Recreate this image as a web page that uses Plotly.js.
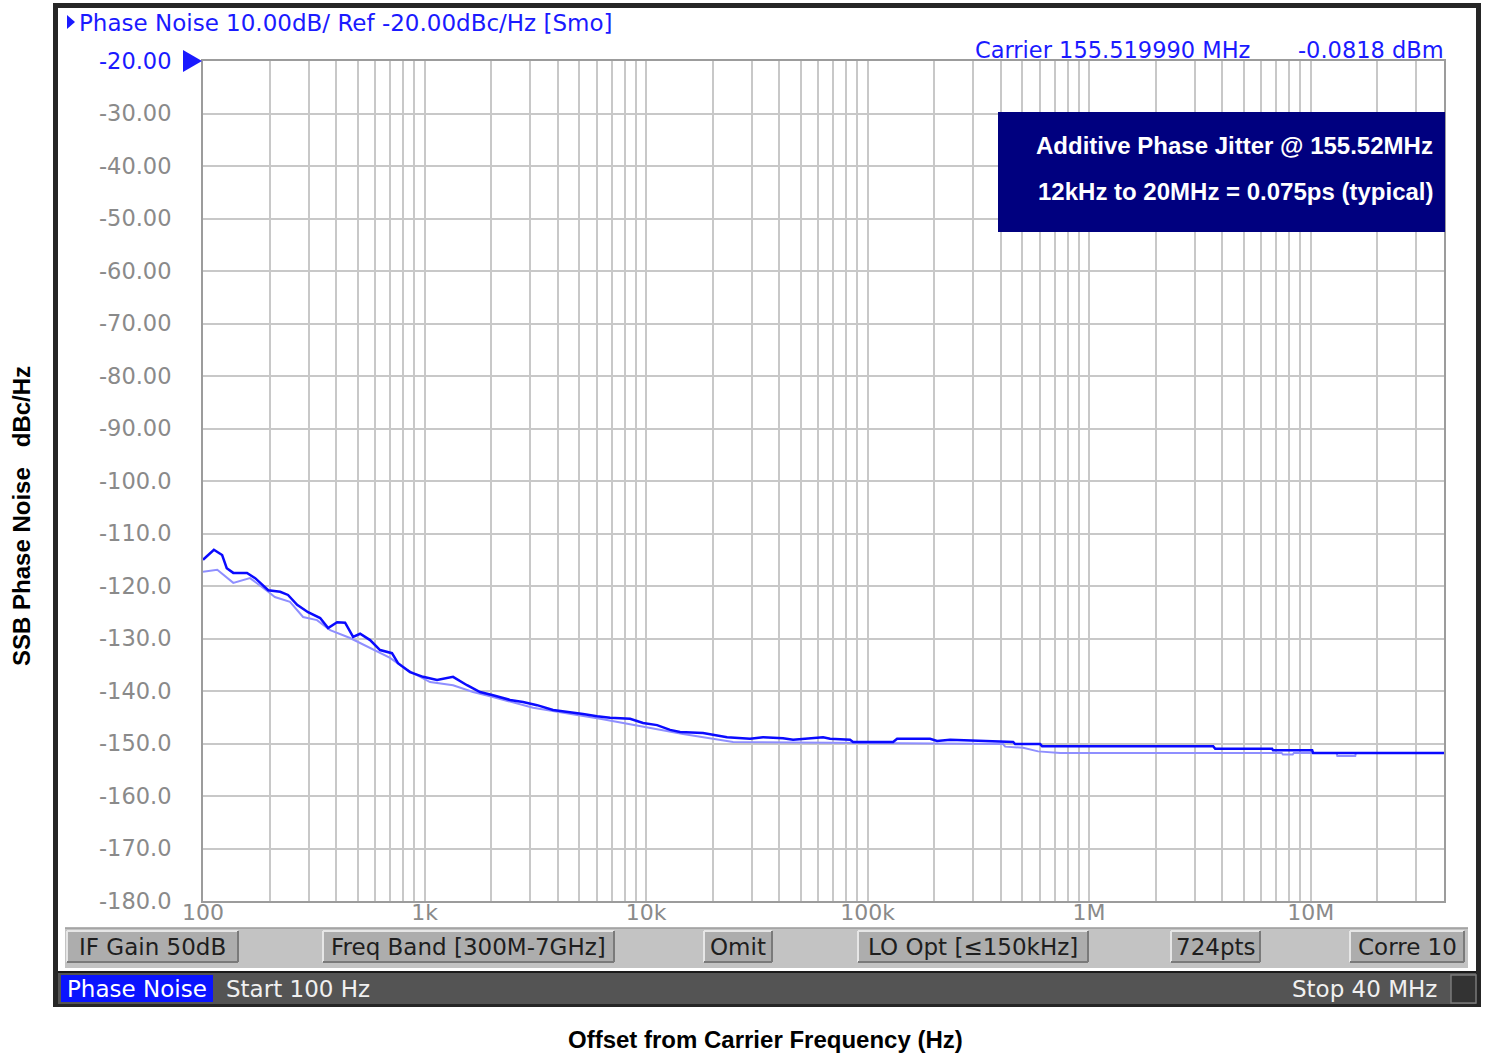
<!DOCTYPE html>
<html>
<head>
<meta charset="utf-8">
<script src="https://cdn.plot.ly/plotly-3.0.1.min.js"></script>
<style>
  html, body { margin: 0; padding: 0; background: #ffffff; }
  #chart { width: 1488px; height: 1053px; }
</style>
</head>
<body>
<div id="chart"></div>
<script>
// ---------------- data ----------------
const darkFreq = [100,112,122,128,137,158,172,197,223,242,266,298,338,367,403,438,476,512,568,630,
  713,759,860,985,1139,1345,1556,1781,2039,2432,2784,3221,3803,4540,5195,6009,6880,8470,9694,11213,
  12837,14240,18080,23210,29480,33750,41550,46110,62970,67720,83370,86030,130400,135900,191500,205900,
  235800,454000,463600,600900,613500,3630000,3710000,6700000,6770000,10160000,10260000,40000000];
const darkDb = [-115.0,-113.1,-114.1,-116.6,-117.5,-117.5,-118.5,-120.8,-121.1,-121.7,-123.6,-125.0,-126.1,-128.0,-126.9,-127.0,-129.7,-129.1,-130.3,-132.2,
  -132.8,-134.7,-136.4,-137.3,-137.9,-137.3,-138.9,-140.2,-140.8,-141.7,-142.1,-142.7,-143.6,-144.0,-144.4,-144.8,-145.1,-145.3,-146.1,-146.5,
  -147.4,-147.8,-148.0,-148.8,-149.1,-148.8,-149.0,-149.3,-148.8,-149.1,-149.3,-149.7,-149.7,-149.1,-149.1,-149.5,
  -149.3,-149.7,-150.1,-150.1,-150.5,-150.5,-151.0,-151.0,-151.3,-151.3,-151.8,-151.8];

const lightFreq = [100,116,137,163,197,211,247,283,327,375,461,568,699,834,1059,1345,1656,1976,3089,6198,
  9694,14690,24710,140200,409000,417800,503500,588700,740000,7400000,7500000,8300000,8400000,13100000,13200000,15900000,16000000,40000000];
const lightDb = [-117.3,-116.9,-119.4,-118.5,-121.1,-122.1,-123.0,-125.9,-126.5,-128.4,-129.9,-131.8,-133.7,-136.0,-138.3,-138.9,-140.2,-141.0,-143.2,-145.3,
  -146.8,-148.2,-149.7,-149.9,-150.1,-150.6,-150.8,-151.5,-151.8,-151.8,-152.1,-152.1,-151.8,-151.8,-152.4,-152.4,-151.8,-151.8];

const yTickVals = [-20,-30,-40,-50,-60,-70,-80,-90,-100,-110,-120,-130,-140,-150,-160,-170,-180];
const yTickText = ['<span style="color:#1a1aff">-20.00</span>','-30.00','-40.00','-50.00','-60.00','-70.00','-80.00','-90.00',
  '-100.0','-110.0','-120.0','-130.0','-140.0','-150.0','-160.0','-170.0','-180.0'];
const xDecades = [100,1000,10000,100000,1000000,10000000];
const xDecadeLabels = ['100','1k','10k','100k','1M','10M'];
const xMax = 40000000;

const titleText = 'Phase Noise 10.00dB/ Ref -20.00dBc/Hz [Smo]';
const carrierText = 'Carrier 155.519990 MHz';
const powerText = '-0.0818 dBm';
const boxLine1 = 'Additive Phase Jitter @ 155.52MHz';
const boxLine2 = '12kHz to 20MHz = 0.075ps (typical)';
const buttonLabels = ['IF Gain 50dB','Freq Band [300M-7GHz]','Omit','LO Opt [≤150kHz]','724pts','Corre 10'];
const measLabel = 'Phase Noise';
const startLabel = 'Start 100 Hz';
const stopLabel = 'Stop 40 MHz';
const xTitle = 'Offset from Carrier Frequency (Hz)';
const yTitle = 'SSB Phase Noise&nbsp;&nbsp;&nbsp;dBc/Hz';

// ---------------- grid ticks (1..9 per decade) ----------------
const xTickVals = [], xTickText = [];
for (let d = 100; d <= 10000000; d *= 10) {
  for (let m = 1; m <= 9; m++) {
    const v = d * m;
    if (v > xMax) break;
    xTickVals.push(v);
    const i = xDecades.indexOf(v);
    xTickText.push(i >= 0 ? xDecadeLabels[i] : '');
  }
}

// ---------------- pixel helpers (layout only) ----------------
const L = 203, R = 1444, T = 61, B = 901;
const xp = px => (px - L) / (R - L);
const yp = py => (B - py) / (B - T);

const screenFont = 'DejaVu Sans, Verdana, sans-serif';
const boldFont = 'Liberation Sans, Arial, Helvetica, sans-serif';

const shapes = [];
const annotations = [];
function rect(x0, y0, x1, y1, fill, line, lw, layer) {
  shapes.push({type: 'rect', xref: 'paper', yref: 'paper', x0: xp(x0), x1: xp(x1), y0: yp(y1), y1: yp(y0),
    fillcolor: fill, line: {color: line || fill, width: lw === undefined ? 0 : lw}, layer: layer || 'below'});
}
function seg(x0, y0, x1, y1, color, w) {
  shapes.push({type: 'line', xref: 'paper', yref: 'paper', x0: xp(x0), x1: xp(x1), y0: yp(y0), y1: yp(y1),
    line: {color: color, width: w}, layer: 'below'});
}
function tri(pts, color) {
  const p = pts.map((q, i) => (i ? 'L' : 'M') + xp(q[0]) + ',' + yp(q[1])).join(' ') + ' Z';
  shapes.push({type: 'path', xref: 'paper', yref: 'paper', path: p, fillcolor: color, line: {color: color, width: 0}, layer: 'above'});
}
function txt(text, x, y, anchor, size, color, family, extra) {
  annotations.push(Object.assign({text: text, xref: 'paper', yref: 'paper', x: xp(x), y: yp(y),
    xanchor: anchor, yanchor: 'middle', showarrow: false,
    font: {size: size, color: color, family: family}}, extra || {}));
}

// window frame
rect(53, 3, 1481, 1007, '#262626');
rect(58, 8, 1476, 971, '#ffffff');
// gray control band
rect(65, 928, 1468, 968, '#c3c3c3');
seg(65, 928, 1468, 928, '#9a9a9a', 1.5);
// bottom status bar
rect(58, 972, 1476, 1004, '#545454');
seg(58, 972, 1476, 972, '#1a1a1a', 2);

// buttons
const buttonX = [[67,238],[323,614],[704,772],[858,1088],[1171,1260],[1350,1464]];
buttonX.forEach((b, i) => {
  rect(b[0], 931, b[1], 962, '#adadad');
  seg(b[0], 931, b[1], 931, '#e6e6e6', 2);
  seg(b[0], 931, b[0], 962, '#e6e6e6', 2);
  seg(b[0], 962, b[1], 962, '#7a7a7a', 2);
  seg(b[1], 931, b[1], 962, '#7a7a7a', 2);
  txt(buttonLabels[i], (b[0] + b[1]) / 2, 947, 'center', 23, '#1e1e1e', screenFont);
});

// status bar items
rect(61, 975, 213, 1002, '#0a14ff');
txt(measLabel, 137, 989, 'center', 23, '#ffffff', screenFont);
txt(startLabel, 224, 989, 'left', 23, '#f0f0f0', screenFont);
txt(stopLabel, 1439, 989, 'right', 23, '#f0f0f0', screenFont);
rect(1451, 975, 1476, 1003, '#333333', '#7a7a7a', 1.5);

// header texts
tri([[67,15],[75,22],[67,29]], '#1a1aff');
txt(titleText, 77, 23, 'left', 23, '#1a1aff', screenFont);
txt(carrierText, 973, 50, 'left', 22.5, '#1a1aff', screenFont);
txt(powerText, 1446, 50, 'right', 22.5, '#1a1aff', screenFont);
// reference marker
tri([[183,50],[202,61],[183,72]], '#1a1aff');

// jitter box
rect(998, 112, 1445, 232, '#00007f', '#00007f', 0, 'above');
const boxFont = {size: 24, color: '#ffffff', family: boldFont, weight: 'bold'};
txt(boxLine1, 1435, 146, 'right', 24, '#ffffff', boldFont, {font: boxFont});
txt(boxLine2, 1435, 191, 'right', 24, '#ffffff', boldFont, {font: boxFont});

// axis titles
txt('<b>' + xTitle + '</b>', 765, 1039, 'center', 24, '#000000', boldFont);
txt('<b>' + yTitle + '</b>', 21, 516, 'center', 24, '#000000', boldFont, {textangle: -90});

// ---------------- traces ----------------
const traces = [
  {x: lightFreq, y: lightDb, type: 'scatter', mode: 'lines', line: {color: '#8f8fff', width: 2}, hoverinfo: 'skip', showlegend: false},
  {x: darkFreq, y: darkDb, type: 'scatter', mode: 'lines', line: {color: '#0a0aff', width: 2.5}, hoverinfo: 'skip', showlegend: false}
];

const layout = {
  width: 1488, height: 1053,
  margin: {l: L, r: 1488 - R, t: T, b: 1053 - B, pad: 0},
  paper_bgcolor: '#ffffff', plot_bgcolor: '#ffffff',
  showlegend: false,
  xaxis: {
    type: 'log', range: [2, Math.log10(xMax)],
    tickmode: 'array', tickvals: xTickVals, ticktext: xTickText, tickangle: 0,
    showgrid: true, gridcolor: '#c8c8c8', gridwidth: 2,
    showline: true, linecolor: '#9c9c9c', linewidth: 2, mirror: true,
    ticks: '', zeroline: false, ticklabelstandoff: -9,
    tickfont: {family: screenFont, size: 22, color: '#8a8a8a'}
  },
  yaxis: {
    range: [-180, -20],
    tickmode: 'array', tickvals: yTickVals, ticktext: yTickText,
    showgrid: true, gridcolor: '#c8c8c8', gridwidth: 2,
    showline: true, linecolor: '#9c9c9c', linewidth: 2, mirror: true,
    ticks: 'outside', ticklen: 25, tickcolor: 'rgba(0,0,0,0)', zeroline: false,
    tickfont: {family: screenFont, size: 22.5, color: '#8a8a8a'}
  },
  shapes: shapes,
  annotations: annotations
};

Plotly.newPlot('chart', traces, layout, {displayModeBar: false, staticPlot: true});
</script>
</body>
</html>
